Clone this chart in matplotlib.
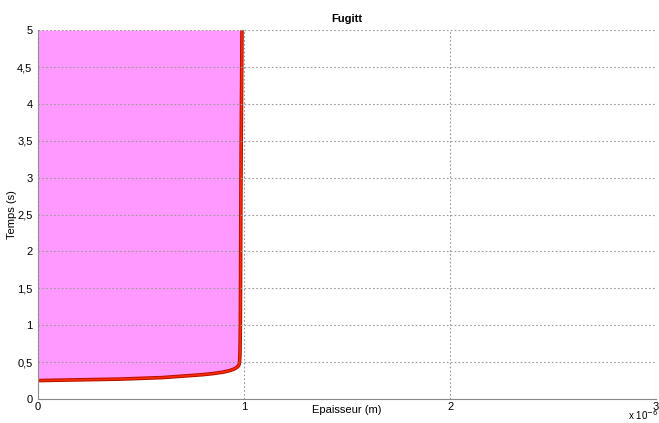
import numpy as np
import matplotlib.pyplot as plt

plt.rcParams['font.family'] = ['Liberation Sans', 'DejaVu Sans']

# front position (m) vs time (s)
epaisseur = np.array([0.0, 0.1, 0.2, 0.3, 0.4, 0.5, 0.6, 0.7, 0.8, 0.85, 0.9, 0.93,
                      0.95, 0.96, 0.97, 0.975, 0.978, 0.98, 0.982, 0.985, 0.99]) * 1e-6
temps = np.array([0.25, 0.255, 0.26, 0.265, 0.27, 0.28, 0.29, 0.31, 0.33, 0.345, 0.365, 0.385,
                  0.405, 0.42, 0.44, 0.46, 0.5, 0.6, 1.0, 3.0, 5.0])

xticks = [0, 1e-6, 2e-6, 3e-6]
xticklabels = ['0', '1', '2', '3']
yticks = [0, 0.5, 1, 1.5, 2, 2.5, 3, 3.5, 4, 4.5, 5]
yticklabels = ['0', '0,5', '1', '1,5', '2', '2,5', '3', '3,5', '4', '4,5', '5']

fig = plt.figure(figsize=(6.59, 4.23), dpi=100)
ax = fig.add_axes([0.0577, 0.0567, 0.938, 0.872])

ax.fill_betweenx(temps, 0, epaisseur, color='#ff99ff', lw=0)
ax.plot(epaisseur, temps, color='#b01000', lw=2.6, solid_capstyle='butt')
ax.plot(epaisseur, temps, color='#ff2a00', lw=1.2, solid_capstyle='butt')

ax.set_xlim(0, 3e-6)
ax.set_ylim(0, 5)
ax.set_xticks(xticks)
ax.set_xticklabels(xticklabels)
ax.set_yticks(yticks)
ax.set_yticklabels(yticklabels)
ax.tick_params(length=0, labelsize=8)
ax.tick_params(axis='x', pad=2)
ax.tick_params(axis='y', pad=4)
ax.grid(True, color='#999999', linestyle=(0, (1.5, 2)), lw=0.8)
ax.set_axisbelow(False)

for s in ['top', 'right']:
    ax.spines[s].set_visible(False)
for s in ['left', 'bottom']:
    ax.spines[s].set_color('#888888')
    ax.spines[s].set_linewidth(0.8)

ax.set_title('Fugitt', fontsize=8, fontweight='bold', pad=6)
ax.set_xlabel('Epaisseur (m)', fontsize=8)
ax.xaxis.set_label_coords(0.5, -0.03)
ax.xaxis.label.set_va('center')
ax.set_ylabel('Temps (s)', fontsize=8)
ax.yaxis.set_label_coords(-0.042, 0.5)
ax.yaxis.label.set_va('center')
fig.text(0.998, 0.002, r'x 10$^{-6}$', fontsize=7, ha='right', va='bottom')

fig.savefig('out.png', dpi=100)
